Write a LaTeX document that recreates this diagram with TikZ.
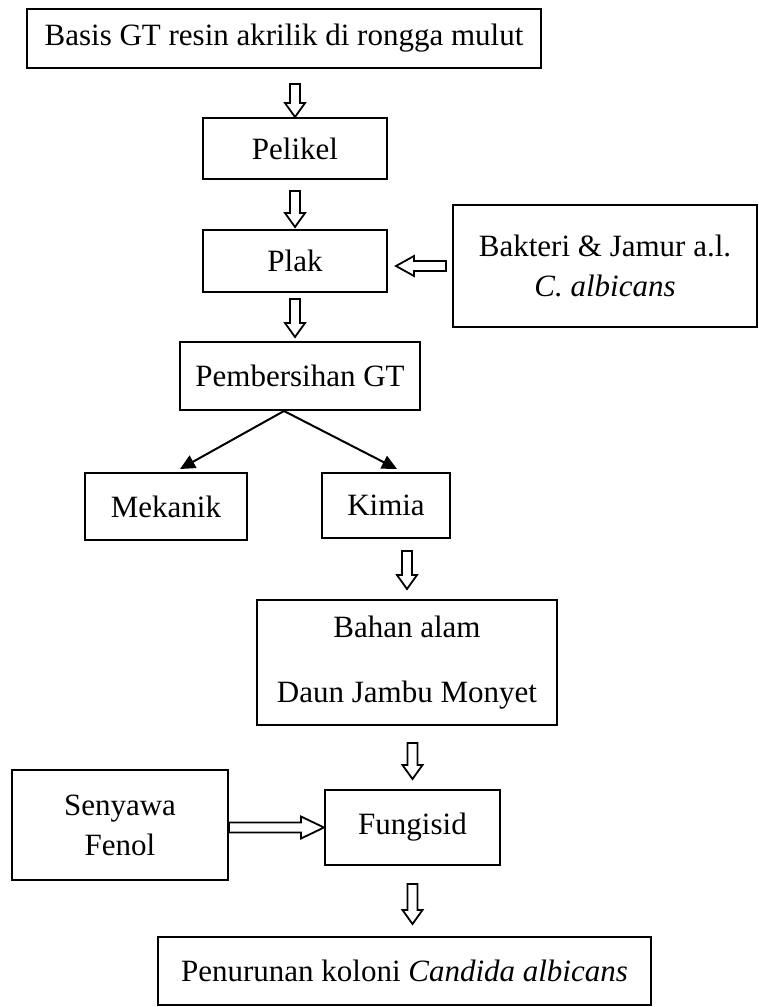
\documentclass[tikz,border=0pt]{standalone}
\usepackage{fontspec}
\setmainfont{Liberation Serif}
\usetikzlibrary{calc,arrows.meta}
\def\fatS{0pt}\def\fatE{0pt}\def\fatW{5pt}\def\fatH{10pt}\def\fatL{14pt}
\tikzset{
  fat start/.store in=\fatS,
  fat end/.store in=\fatE,
  fat head/.store in=\fatL,
  fat halfhead/.store in=\fatH,
  box/.style={draw, line width=2pt, inner sep=0pt, align=center,
    font=\fontsize{31}{40}\selectfont},
  fat/.style={line width=1.8pt, to path={
    let \p1=($(\tikztostart)!\fatS!(\tikztotarget)$),
        \p2=($(\tikztotarget)!\fatE!(\tikztostart)$),
        \n1={atan2(\y2-\y1,\x2-\x1)}
    in ($(\p1)+(\n1+90:\fatW)$)
    -- ($(\p2)+(\n1+180:\fatL)+(\n1+90:\fatW)$)
    -- ($(\p2)+(\n1+180:\fatL)+(\n1+90:\fatH)$)
    -- (\p2)
    -- ($(\p2)+(\n1+180:\fatL)+(\n1-90:\fatH)$)
    -- ($(\p2)+(\n1+180:\fatL)+(\n1-90:\fatW)$)
    -- ($(\p1)+(\n1-90:\fatW)$) -- cycle}},
  branch/.style={line width=2pt, -{Triangle[length=15pt,width=14pt]}}
}
\begin{document}
\begin{tikzpicture}[x=1pt,y=-1pt]
\useasboundingbox (0,0) rectangle (759,1007);
\node[box, minimum width=514pt, minimum height=59pt] (n1) at (284,38.5) {Basis GT resin akrilik di rongga mulut};
\node[box, minimum width=184pt, minimum height=61pt] (pel) at (295,148.5) {Pelikel};
\node[box, minimum width=184pt, minimum height=62pt] (plak) at (295,261) {Plak};
\node[box, minimum width=304pt, minimum height=122pt] (bak) at (605,266) {Bakteri \& Jamur a.l.\\\textit{C. albicans}};
\node[box, minimum width=240pt, minimum height=68pt] (pem) at (300,376) {Pembersihan GT};
\node[box, minimum width=162pt, minimum height=67pt] (mek) at (166,506.5) {Mekanik};
\node[box, minimum width=128pt, minimum height=65pt] (kim) at (386,505.5) {Kimia};
\node[box, minimum width=300pt, minimum height=125pt] (bah) at (407,662.5) {Bahan alam\\[25pt]Daun Jambu Monyet};
\node[box, minimum width=216pt, minimum height=110pt] (sen) at (120,825) {Senyawa\\Fenol};
\node[box, minimum width=175pt, minimum height=75pt] (fun) at (412.5,827.5) {Fungisid};
\node[box, minimum width=493pt, minimum height=68pt] (pen) at (404.5,971) {Penurunan koloni \textit{Candida albicans}};

\draw[fat, fat start=15pt] (n1.south -| pel.north) to (pel.north);
\draw[fat, fat start=11pt, fat end=2pt] (pel.south) to (plak.north);
\draw[fat, fat start=6pt, fat end=4pt] (plak.south) to (plak.south |- pem.north);
\draw[fat, fat start=6pt, fat end=8pt, fat head=18pt] (bak.west) to (bak.west -| plak.east);
\draw[fat, fat start=12pt, fat end=10pt] (kim.south -| bah.north) to (bah.north);
\draw[fat, fat start=17pt, fat end=10pt] (bah.south -| fun.north) to (fun.north);
\draw[fat, fat start=18pt, fat end=12pt] (fun.south) to (fun.south |- pen.north);
\draw[fat, fat head=23pt, fat halfhead=11pt] (sen.east |- fun.west) to (fun.west);

\coordinate (br) at ($(pem.south)+(-16,0)$);
\coordinate (tm) at ($(mek.north)+(14,-3)$);
\coordinate (tk) at ($(kim.north)+(11,-3)$);
\draw[branch] (br) -- (tm);
\draw[branch] (br) -- (tk);
\end{tikzpicture}
\end{document}
